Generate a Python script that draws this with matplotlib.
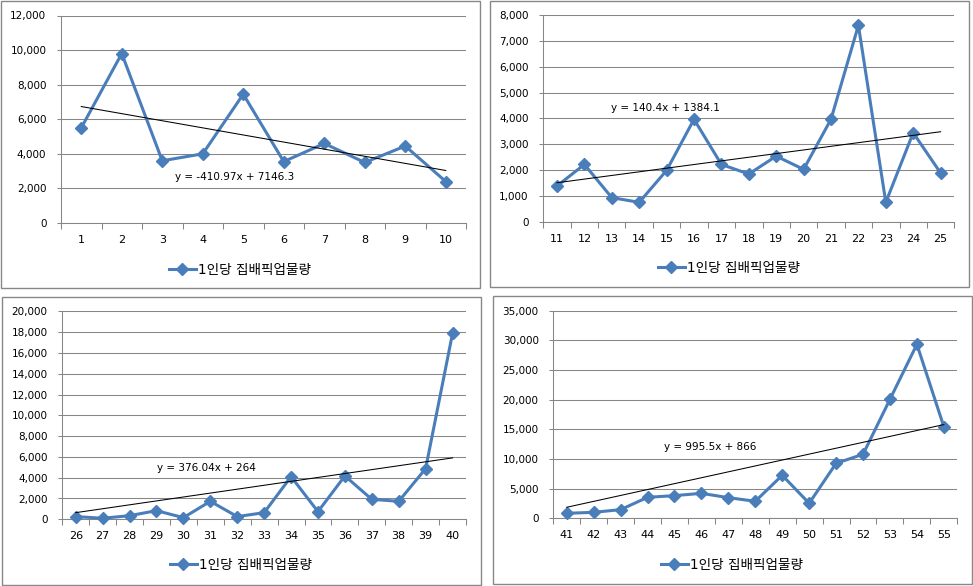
import matplotlib
matplotlib.use("Agg")
import matplotlib.pyplot as plt
from matplotlib.patches import Rectangle
from matplotlib.ticker import FuncFormatter, MultipleLocator, FixedLocator
import numpy as np

plt.rcParams['font.family'] = ['DejaVu Sans', 'Noto Sans CJK KR']

series_name = "1인당 집배픽업물량"

cats1 = list(range(1, 11))
vals1 = [5500, 9800, 3600, 4000, 7450, 3550, 4600, 3500, 4450, 2400]
cats2 = list(range(11, 26))
vals2 = [1400, 2230, 950, 770, 2000, 3970, 2230, 1860, 2550, 2040, 3970, 7590, 770, 3450, 1900]
cats3 = list(range(26, 41))
vals3 = [260, 100, 350, 830, 160, 1730, 260, 640, 4100, 740, 4170, 1920, 1730, 4870, 17880]
cats4 = list(range(41, 56))
vals4 = [840, 1010, 1460, 3540, 3820, 4210, 3480, 2870, 7250, 2530, 9270, 10790, 20060, 29330, 15450]

trend_slopes = [-410.97, 140.4, 376.04, 995.5]
trend_intercepts = [7146.3, 1384.1, 264, 866]
y_max = [12000, 8000, 20000, 35000]
y_step = [2000, 1000, 2000, 5000]

W, H = 973, 586
fig = plt.figure(figsize=(W / 100, H / 100), dpi=100)
fig.patch.set_facecolor('white')

# pixel layout (left, top, right, bottom)
axes_px = [(61, 15.5, 466, 223), (543.3, 14.7, 954.3, 222.3),
           (62.3, 311.3, 466, 519.3), (553.3, 310.7, 957.3, 518.3)]
border_px = [(1, 1, 480, 288), (490, 1, 969, 287), (2, 297, 481, 585), (493, 296, 972, 584)]
legend_px = [(240, 270), (729, 268), (241, 565), (732, 565)]
label_frac = [(0.428, 0.222), (0.298, 0.551), (0.357, 0.245), (0.388, 0.345)]

grid_col = '#868686'
line_col = '#4A7EBB'

for (l, t, r, b) in border_px:
    fig.patches.append(Rectangle((l / W, 1 - b / H), (r - l) / W, (b - t) / H,
                                 transform=fig.transFigure, fill=False,
                                 edgecolor='#888888', linewidth=1.0))

all_cats = [cats1, cats2, cats3, cats4]
all_vals = [vals1, vals2, vals3, vals4]

for i in range(4):
    l, t, r, b = axes_px[i]
    ax = fig.add_axes([l / W, 1 - b / H, (r - l) / W, (b - t) / H])
    cats = all_cats[i]
    vals = all_vals[i]
    n = len(cats)
    x = np.arange(1, n + 1)
    ax.set_xlim(0.5, n + 0.5)
    ax.set_ylim(0, y_max[i])
    ax.yaxis.set_major_locator(MultipleLocator(y_step[i]))
    ax.yaxis.set_major_formatter(FuncFormatter(lambda v, p: f"{int(v):,}"))
    ax.grid(axis='y', color=grid_col, linewidth=0.75, zorder=0)
    ax.set_axisbelow(True)
    for s in ['top', 'right']:
        ax.spines[s].set_visible(False)
    for s in ['left', 'bottom']:
        ax.spines[s].set_color(grid_col)
        ax.spines[s].set_linewidth(0.75)
    ax.set_xticks(x)
    ax.set_xticklabels([str(c) for c in cats])
    ax.xaxis.set_minor_locator(FixedLocator(np.arange(0.5, n + 1.0, 1.0)))
    ax.tick_params(axis='x', which='major', length=0, pad=8.5, labelsize=8, colors='black')
    ax.tick_params(axis='x', which='minor', length=4, width=0.75, color=grid_col, direction='out')
    ax.tick_params(axis='y', which='major', length=3, width=0.75, color=grid_col, pad=7.5,
                   labelsize=7.5, labelcolor='black')

    ax.plot(x, vals, color=line_col, linewidth=2.2, marker='D', markersize=6,
            markerfacecolor=line_col, markeredgecolor=line_col, label=series_name,
            zorder=3, clip_on=False)
    tx = np.array([1, n])
    ty = trend_slopes[i] * tx + trend_intercepts[i]
    ax.plot(tx, ty, color='black', linewidth=0.75, zorder=4)
    label = "y = %gx + %g" % (trend_slopes[i], trend_intercepts[i])
    ax.text(label_frac[i][0], label_frac[i][1], label, transform=ax.transAxes,
            ha='center', va='center', fontsize=7.5, color='black', zorder=5)

    lx, ly = legend_px[i]
    ax.legend(loc='center', bbox_to_anchor=(lx / W, 1 - ly / H), bbox_transform=fig.transFigure,
              frameon=False, fontsize=9.8, handlelength=2.0, handletextpad=0.2,
              numpoints=1, borderpad=0, borderaxespad=0)

fig.savefig('out.png', dpi=100, facecolor='white')
